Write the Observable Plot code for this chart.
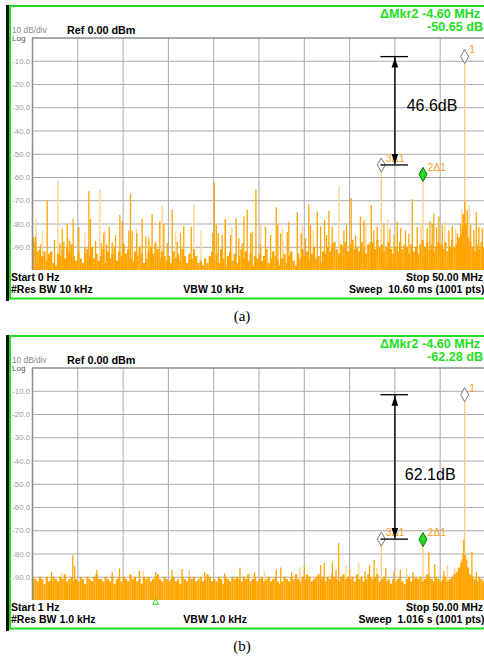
<!DOCTYPE html>
<html><head><meta charset="utf-8">
<script src="https://cdn.jsdelivr.net/npm/d3@7"></script>
<script src="https://cdn.jsdelivr.net/npm/@observablehq/plot@0.6"></script>
<style>
html,body{margin:0;padding:0;background:#fff;width:484px;overflow:hidden;}
.panel{width:484px;height:305px;position:relative;}
.panel svg{display:block;}
.cap{width:484px;height:25px;line-height:23px;text-align:center;font-family:"Liberation Serif","Times New Roman",serif;font-size:15px;color:#000;}
</style></head><body>
<div id="pa" class="panel"></div><div class="cap">(a)</div>
<div id="pb" class="panel"></div><div class="cap">(b)</div>
<script>
// ---------- data ----------
const freqStep = 0.25; // MHz per floor bin
const vGrid = [5,10,15,20,25,30,35,40,45,50];
const yTicks = [-10,-20,-30,-40,-50,-60,-70,-80,-90];
const markerNames = ["1","2\u03941","3\u03941"];

// panel (a) noise floor (dB), 0.25 MHz bins, 0..50 MHz
const floorA = [
-86,-88,-92,-91,-94,-92,-96,-93,-92,-97,
-98,-93,-94,-91,-95,-90,-92,-89,-94,-96,
-92,-95,-97,-93,-91,-94,-90,-95,-93,-96,
-94,-91,-97,-92,-95,-93,-90,-96,-92,-94,
-89,-93,-91,-95,-96,-92,-94,-90,-93,-97,
-95,-92,-90,-93,-89,-91,-95,-92,-94,-96,
-94,-97,-92,-95,-93,-96,-91,-94,-97,-93,
-95,-91,-94,-97,-96,-98,-95,-97,-94,-92,
-96,-93,-97,-91,-95,-98,-94,-92,-96,-93,
-97,-94,-91,-95,-92,-96,-93,-98,-94,-95,
-93,-96,-94,-91,-97,-95,-92,-94,-96,-98,
-95,-93,-97,-94,-92,-96,-98,-93,-95,-91,
-94,-92,-96,-93,-90,-95,-94,-97,-92,-93,
-90,-92,-89,-88,-91,-93,-89,-90,-88,-92,
-89,-87,-91,-90,-92,-88,-90,-93,-89,-88,
-88,-91,-87,-90,-89,-92,-90,-88,-91,-93,
-90,-92,-88,-91,-89,-90,-93,-89,-92,-90,
-93,-89,-87,-90,-88,-91,-89,-92,-90,-88,
-89,-91,-88,-92,-90,-87,-90,-89,-86,-85,
-76,-80,-86,-88,-90,-92,-89,-91,-88,-90];
// panel (a) trace spikes [MHz, dB]
const spikesA = [
[0.33,-85.6],[1.62,-70],[3.28,-82],[3.83,-80],[4.49,-78],[5.11,-81.6],[6.22,-66],[6.4,-78],
[7.87,-84],[8.47,-81.3],[9.16,-85],[9.64,-76.3],[9.9,-79],[10.63,-83],[10.82,-67.2],[12.1,-78],
[13.2,-76],[14.05,-79],[14.5,-80],[15.42,-74],[16.34,-84],[16.7,-81],[17.52,-81.3],[19.9,-84],
[20.06,-62.3],[20.28,-80.5],[21.3,-78],[22.48,-77.7],[23.33,-77],[23.7,-74],[24.66,-65.5],[25.72,-81.3],
[26.9,-73],[27.08,-80.5],[28.3,-79.4],[29.22,-75],[30.5,-71.7],[31.43,-74.8],[32.24,-78.4],[32.72,-74.5],
[33.08,-81.4],[34.37,-83],[35.18,-69],[36.2,-77],[37.39,-72],[38.79,-80],[40.26,-79.3],[41.92,-69.6],
[43.57,-82],[44.3,-75.7],[44.86,-76.9],[46.33,-81],[47.72,-70.4],[47.98,-74.3],[48.98,-75],[49.65,-82],
[0.88,-89],[2.43,-87],[3.02,-88.5],[3.46,-87.8],[4.12,-87.5],[5.78,-90],[6.96,-87.5],[7.62,-88.5],
[8.17,-89],[8.8,-88],[11.0,-83.2],[11.5,-84.2],[12.5,-85.6],[12.84,-86.6],[13.58,-87.8],[14.87,-88.5],
[15.97,-87.8],[20.5,-84.2],[20.94,-84.9],[21.86,-84.9],[22.78,-86.3],[23.15,-88.5],[24.07,-84.2],[24.25,-83.5],
[25.17,-89],[26.28,-84.9],[27.38,-84.2],[28.12,-83.5],[29.66,-84.2],[30.14,-86.3],[30.69,-80.6],[31.8,-81.3],
[32.46,-84.9],[34.67,-80.7],[35.66,-85],[36.58,-78.6],[37.68,-82.9],[38.05,-81.4],[39.45,-82.1],[39.9,-85],
[40.63,-82.1],[41.18,-82.9],[41.55,-84.3],[42.47,-81.4],[43.87,-79],[44.12,-80],[44.6,-81.7],[45.23,-80.7],
[45.96,-82.9],[46.9,-84.3],[47.25,-80],[47.44,-82],[48.36,-80.7],[48.72,-82.9],[49.27,-81.4]];
const lightA = [
[0,-47],[0.4,-77.7],[2.8,-61.5],[7.43,-65.2],[14.32,-72.2],[17.81,-71.7],[21.2,-78.4],[33.82,-64],
[1.1,-83],[4.0,-86],[5.8,-84],[8.0,-83],[11.5,-82],[12.8,-85],[15.8,-84],[18.6,-83],[22.0,-82],
[25.2,-80],[27.6,-82],[29.8,-81],[31.0,-83],[36.8,-80],[39.2,-78],[42.9,-80],[45.5,-79],[46.7,-82],
[47.4,-74],[48.2,-72]];
const markerFreqA = [47.7, 43.1, 38.5];
const markerLevelA = [-8.0, -58.65, -54.6];

// panel (b)
const floorB = [
-90,-91,-92,-90,-91,-93,-90,-92,-91,-90,
-91,-92,-90,-91,-89,-92,-91,-90,-92,-91,
-92,-90,-91,-93,-90,-91,-92,-90,-89,-91,
-91,-92,-90,-91,-92,-90,-93,-91,-90,-92,
-90,-91,-92,-89,-91,-90,-92,-91,-93,-90,
-91,-90,-92,-91,-90,-89,-91,-92,-90,-91,
-92,-91,-90,-92,-91,-93,-90,-91,-92,-90,
-91,-90,-92,-91,-90,-92,-91,-89,-90,-92,
-91,-92,-90,-91,-93,-90,-91,-92,-90,-91,
-90,-91,-92,-90,-91,-89,-92,-91,-90,-92,
-91,-90,-92,-91,-90,-92,-91,-90,-92,-93,
-92,-90,-91,-92,-90,-91,-89,-91,-92,-90,
-91,-89,-90,-92,-91,-90,-89,-91,-90,-92,
-90,-91,-89,-90,-91,-92,-90,-89,-91,-90,
-91,-90,-92,-89,-91,-90,-92,-91,-89,-90,
-91,-90,-89,-92,-91,-90,-92,-91,-93,-91,
-92,-91,-90,-92,-93,-91,-90,-92,-91,-90,
-91,-90,-92,-91,-89,-90,-91,-92,-90,-91,
-92,-91,-90,-92,-91,-90,-89,-88,-86,-84,
-80,-83,-86,-89,-90,-91,-92,-90,-91,-92];
const spikesB = [
[4.45,-80.7],[4.65,-85.4],[2.1,-88],[7.1,-87],[8.8,-88],[9.6,-86.4],[11.8,-87.5],[13.6,-88],
[15.4,-87],[16.5,-86.7],[19.0,-88],[21.2,-88.5],[22.9,-86],[24.5,-88],[26.9,-87],[27.4,-86],
[28.6,-88],[30.0,-85.3],[31.8,-85],[32.2,-84],[33.1,-83.8],[33.5,-87],[33.8,-75.6],[35.0,-87],
[36.7,-87.5],[37.2,-85],[37.7,-82.8],[39.0,-86.5],[39.9,-87.5],[40.6,-87],[42.0,-88],[43.75,-79.2],
[44.4,-84.5],[45.4,-87.5],[47.25,-88],[47.4,-82.9],[47.6,-74],[47.8,-80.7],[48.5,-79.3],[49.0,-88]];
const lightB = [
[0,-42],[3.2,-88],[12.2,-87.5],[17.3,-87],[25.6,-87.5],[29.5,-86],[34.6,-85],[36.0,-84],
[38.0,-86],[41.3,-86],[45.8,-85],[46.6,-86],[48.0,-82]];
const markerFreqB = [47.7, 43.1, 38.5];
const markerLevelB = [-11.5, -73.78, -73.6];

const panels = [
 {id:"pa", floor:floorA, spikes:spikesA, light:lightA, mFreq:markerFreqA, mLevel:markerLevelA,
  delta:46.6, deltaText:"46.6dB", labelDb:-29, labelF:41.3,
  mkr:"\u0394Mkr2 -4.60 MHz", mkrVal:"-50.65 dB",
  start:"Start 0 Hz", rbw:"#Res BW 10 kHz", vbw:"VBW 10 kHz", stop:"Stop 50.00 MHz", sweep:"Sweep  10.60 ms (1001 pts)", caret:null},
 {id:"pb", floor:floorB, spikes:spikesB, light:lightB, mFreq:markerFreqB, mLevel:markerLevelB,
  delta:62.1, deltaText:"62.1dB", labelDb:-46, labelF:41.1,
  mkr:"\u0394Mkr2 -4.60 MHz", mkrVal:"-62.28 dB",
  start:"Start 1 Hz", rbw:"#Res BW 1.0 kHz", vbw:"VBW 1.0 kHz", stop:"Stop 50.00 MHz", sweep:"Sweep  1.016 s (1001 pts)", caret:13.6}
];

// ---------- styles ----------
const FONT = "'Liberation Sans', Arial, Helvetica, sans-serif";
const OR = "#FFA500", LIGHT = "#FFD699", MLINE = "#FFC870", GREEN = "#22DD22", GRID = "#a9a9a9";
const diamondSym = {draw(c){c.moveTo(0,-7);c.lineTo(4,0);c.lineTo(0,7);c.lineTo(-4,0);c.closePath();}};
const headUp = {draw(c){c.moveTo(0,0);c.lineTo(3.3,10);c.lineTo(-3.3,10);c.closePath();}};
const headDown = {draw(c){c.moveTo(0,0);c.lineTo(3.3,-10);c.lineTo(-3.3,-10);c.closePath();}};

function drawPanel(p) {
  const floorRows = p.floor.map((v,i)=>({x1:i*freqStep, x2:(i+1)*freqStep, y:v}));
  const markers = markerNames.map((n,i)=>({name:n, f:p.mFreq[i], db:p.mLevel[i]}));
  const m1 = p.mLevel[0];
  const mBot = m1 - p.delta;
  const ax = vGrid[7];
  const marks = [
    Plot.ruleX(vGrid, {x:d=>d, y1:-100, y2:0, stroke:GRID, strokeWidth:1}),
    Plot.ruleY(yTicks, {y:d=>d, x1:0, x2:50, stroke:GRID, strokeWidth:1}),
    Plot.ruleX(markers, {x:"f", y1:-100, y2:"db", stroke:MLINE, strokeWidth:1.2}),
    Plot.ruleX(p.light, {x:d=>d[0], y1:-100, y2:d=>d[1], stroke:LIGHT, strokeWidth:1.5}),
    Plot.rect(floorRows, {x1:"x1", x2:"x2", y1:-100, y2:"y", fill:OR}),
    Plot.ruleX(p.spikes, {x:d=>d[0], y1:-100, y2:d=>d[1], stroke:OR, strokeWidth:1.3}),
    Plot.ruleY([0], {x1:0, x2:50, stroke:"#8c8c8c", strokeWidth:1.5}),
    Plot.ruleX([0], {y1:-100, y2:0, stroke:"#8c8c8c", strokeWidth:1.5}),
    Plot.text(yTicks, {x:0, y:d=>d, text:d=>d.toFixed(1), textAnchor:"end", dx:-2.5, fontSize:7.8, fill:"#9a9a9a"}),
    Plot.dot(markers.filter((d,i)=>i!==1), {x:"f", y:"db", symbol:diamondSym, r:4, fill:"#fff", stroke:"#777", strokeWidth:1}),
    Plot.dot(markers.filter((d,i)=>i===1), {x:"f", y:"db", symbol:diamondSym, r:4, fill:GREEN, stroke:"#0b6e0b", strokeWidth:1}),
    Plot.text(markers, {x:"f", y:"db", text:"name", textAnchor:"start", dx:4.5, dy:-6.5, fontSize:10.5, fill:"#F5A01A"}),
    Plot.ruleX([ax], {x:d=>d, y1:mBot, y2:m1, stroke:"#000", strokeWidth:1.4}),
    Plot.ruleY([m1, mBot], {y:d=>d, x1:ax-1.55, x2:ax+1.5, stroke:"#000", strokeWidth:1.3}),
    Plot.dot([m1], {x:ax, y:d=>d, symbol:headUp, r:4, fill:"#000", stroke:"none", dy:1}),
    Plot.dot([mBot], {x:ax, y:d=>d, symbol:headDown, r:4, fill:"#000", stroke:"none", dy:-1}),
    Plot.text([p.deltaText], {x:p.labelF, y:p.labelDb, text:d=>d, textAnchor:"start", fontSize:16, fill:"#000"})
  ];
  if (p.caret !== null) {
    marks.push(Plot.dot([p.caret], {x:d=>d, y:-100, symbol:"triangle", r:2.2, stroke:GREEN, fill:"none", strokeWidth:1, dy:2}));
  }
  const svg = Plot.plot({
    width:484, height:305,
    marginLeft:32, marginRight:-1, marginTop:37.5, marginBottom:35,
    x:{domain:[0,50], axis:null},
    y:{domain:[-100,0], axis:null},
    style:{background:"transparent", fontFamily:FONT, overflow:"visible"},
    marks
  });
  const s = d3.select(svg);
  const g = s.append("g");
  g.append("rect").attr("x",6).attr("y",5).attr("width",3).attr("height",296).attr("fill","#111");
  g.append("rect").attr("x",9).attr("y",5).attr("width",2).attr("height",294.5).attr("fill",GREEN);
  g.append("rect").attr("x",9).attr("y",5).attr("width",476).attr("height",2).attr("fill",GREEN);
  g.append("rect").attr("x",9).attr("y",297.5).attr("width",476).attr("height",2).attr("fill",GREEN);
  const txt = (x,y,str,size,weight,fill,anchor) => g.append("text")
    .attr("x",x).attr("y",y).attr("font-size",size).attr("font-weight",weight)
    .attr("fill",fill).attr("text-anchor",anchor||"start").attr("font-family",FONT)
    .style("white-space","pre").text(str);
  txt(12,33,"10 dB/div",8.3,"normal","#8a8a8a");
  txt(12,40.5,"Log",8,"normal","#555");
  txt(67,34,"Ref 0.00 dBm",10.8,"bold","#000");
  txt(380,18,p.mkr,12.6,"bold",GREEN);
  txt(427,31,p.mkrVal,12.6,"bold",GREEN);
  txt(11,280.5,p.start,10.5,"bold","#000");
  txt(11,293.3,p.rbw,10.5,"bold","#000");
  txt(183.3,293.3,p.vbw,10.5,"bold","#000");
  txt(483,280.5,p.stop,10.5,"bold","#000","end");
  txt(484.5,293.3,p.sweep,10.5,"bold","#000","end");
  document.getElementById(p.id).appendChild(svg);
}
panels.forEach(drawPanel);
</script></body></html>
